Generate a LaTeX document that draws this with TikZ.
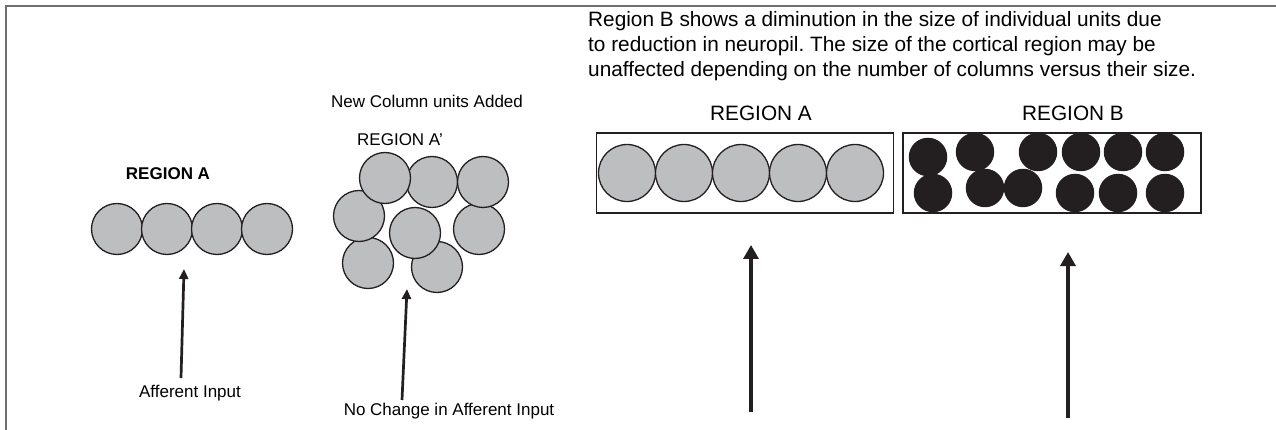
\documentclass[tikz,border=0pt]{standalone}
\usepackage{fontspec}
\setmainfont{Liberation Sans}
\usetikzlibrary{arrows.meta,positioning}
\frenchspacing

\definecolor{unitgray}{HTML}{BCBEC0}
\definecolor{inkblack}{HTML}{231F20}
\definecolor{framegray}{HTML}{6D6E71}

\begin{document}
\begin{tikzpicture}[
    x=1pt, y=-1pt,
    unit/.style={circle, draw=inkblack, line width=1.3pt, fill=unitgray, minimum size=51pt, inner sep=0pt, outer sep=0pt},
    bigunit/.style={unit, minimum size=57pt},
    smallunit/.style={circle, fill=inkblack, minimum size=38.5pt, inner sep=0pt, outer sep=0pt},
    panel/.style={rectangle, draw=inkblack, line width=1.6pt, minimum width=297pt, minimum height=80pt, inner sep=0pt},
    lbl/.style={font=\fontsize{17}{20}\selectfont, inner sep=0pt, anchor=base},
    rlbl/.style={font=\fontsize{20.8}{25}\selectfont, inner sep=0pt, anchor=base},
    note/.style={font=\fontsize{20.8}{25}\selectfont, inner sep=0pt, anchor=base west},
    inarrow/.style={-{Triangle[width=9pt,length=10pt]}, line width=2.7pt, draw=inkblack},
    bigarrow/.style={-{Triangle[width=15pt,length=14pt]}, line width=3.3pt, draw=inkblack}
]
\useasboundingbox (0,0) rectangle (1276,430);

% Frame
\draw[framegray, line width=2pt] (1276,6) -- (6,6) -- (6,430);

% Region A (original)
\node[lbl, font={\fontsize{17}{20}\selectfont\bfseries}] (regA) at (168,180) {REGION A};
\node[unit] (l1) at (117,229) {};
\node[unit, right=-1pt of l1] (l2) {};
\node[unit, right=-1pt of l2] (l3) {};
\node[unit, right=-1pt of l3] (l4) {};
\node[lbl] (afferent) at (190,397) {Afferent Input};
\coordinate (tailA) at (181,378);
\coordinate (tipA) at (184,269);
\draw[inarrow] (tailA) -- (tipA);

% Region A' (columns added)
\node[lbl] (added) at (427,108) {New Column units Added};
\node[lbl] (regAp) at (400,146) {REGION A'};
\node[unit] (m7) at (368,263) {};
\node[unit] (m8) at (437,267) {};
\node[unit] (m6) at (479,229) {};
\node[unit] (m4) at (359,216) {};
\node[unit] (m5) at (415,233) {};
\node[unit] (m2) at (432,182) {};
\node[unit] (m1) at (385,178) {};
\node[unit] (m3) at (483,182) {};
\node[lbl] (nochange) at (449,415) {No Change in Afferent Input};
\coordinate (tailAp) at (402,400);
\coordinate (tipAp) at (407,289);
\draw[inarrow] (tailAp) -- (tipAp);

% Note
\node[note] (note1) at (588,27) {Region B shows a diminution in the size of individual units due};
\node[note] (note2) at (588,52) {to reduction in neuropil. The size of the cortical region may be};
\node[note] (note3) at (588,77) {unaffected depending on the number of columns versus their size.};

% Region A panel
\node[rlbl] (labA) at (761,121) {REGION A};
\node[panel] (boxA) at (745,173) {};
\node[bigunit] (r1) at (627,173) {};
\node[bigunit, right=0pt of r1] (r2) {};
\node[bigunit, right=0pt of r2] (r3) {};
\node[bigunit, right=0pt of r3] (r4) {};
\node[bigunit, right=0pt of r4] (r5) {};
\coordinate (tailR1) at (751,412);
\coordinate (tipR1) at (751,245);
\draw[bigarrow] (tailR1) -- (tipR1);

% Region B panel
\node[rlbl] (labB) at (1073,121) {REGION B};
\node[panel, minimum width=298pt] (boxB) at (1052,173) {};
\node[smallunit] (b1) at (928,157) {};
\node[smallunit] (b2) at (975,152) {};
\node[smallunit] (b3) at (1038,152) {};
\node[smallunit] (b4) at (1081,152) {};
\node[smallunit] (b5) at (1123,152) {};
\node[smallunit] (b6) at (1165,152) {};
\node[smallunit] (b7) at (933,193) {};
\node[smallunit] (b8) at (985,188) {};
\node[smallunit] (b9) at (1023,188) {};
\node[smallunit] (b10) at (1075,193) {};
\node[smallunit] (b11) at (1118,193) {};
\node[smallunit] (b12) at (1165,193) {};
\coordinate (tailR2) at (1068,418);
\coordinate (tipR2) at (1068,252);
\draw[bigarrow] (tailR2) -- (tipR2);
\end{tikzpicture}
\end{document}
